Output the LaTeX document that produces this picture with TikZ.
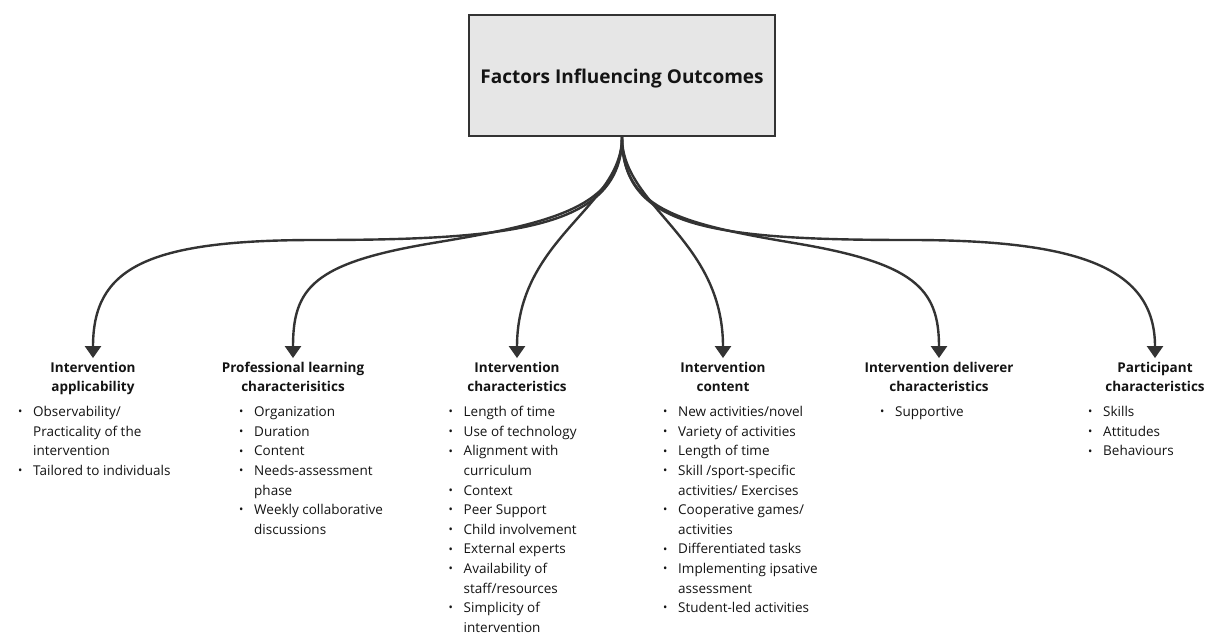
\documentclass[tikz,border=0pt]{standalone}
\usepackage{fontspec}
\usepackage{graphicx}
\setmainfont{Open Sans}
\usetikzlibrary{arrows.meta}

\definecolor{linegray}{HTML}{333333}
\definecolor{boxgray}{HTML}{E6E6E6}
\definecolor{textgray}{HTML}{141414}

\newcommand{\bul}{\makebox[13pt][l]{\makebox[0pt]{\raisebox{0.05em}{\scalebox{0.85}{\textbullet}}}}}
\newcommand{\ind}{\hspace*{13pt}}

\tikzset{
    rootbox/.style={draw=linegray, line width=2pt, fill=boxgray, minimum width=306pt, minimum height=121pt, font=\bfseries\fontsize{19}{22}\selectfont, text=textgray},
    factor/.style={anchor=base, inner sep=0, font=\bfseries\fontsize{13.5}{19.6}\selectfont, text=textgray},
    itemlist/.style={anchor=base west, inner sep=0, font=\fontsize{13.5}{19.6}\selectfont, text=textgray},
    branch/.style={draw=linegray, line width=2.4pt, -{Triangle[width=16pt, length=12pt]}}
}

\begin{document}
\begin{tikzpicture}[x=1pt, y=-1pt]
        \fill[white] (0, 0) rectangle (1206, 634);
        \useasboundingbox (0, 0) rectangle (1206, 634);

        \node (0) at (622, 75.5)[rootbox] {\raisebox{-3pt}[\height][\depth]{Factors Influencing Outcomes}};

        \node (1) at (93, 372)[factor] {\begin{tabular}[t]{@{}c@{}}Intervention\\ applicability\end{tabular}};
        \node (l1) at (20, 416.6)[itemlist] {\begin{tabular}[t]{@{}l@{}}
            \bul Observability/\\ \ind Practicality of the\\ \ind intervention\\
            \bul Tailored to individuals\end{tabular}};

        \node (2) at (293, 372)[factor] {\begin{tabular}[t]{@{}c@{}}Professional learning\\ characterisitics\end{tabular}};
        \node (l2) at (241, 416.6)[itemlist] {\begin{tabular}[t]{@{}l@{}}
            \bul Organization\\ \bul Duration\\ \bul Content\\
            \bul Needs-assessment\\ \ind phase\\
            \bul Weekly collaborative\\ \ind discussions\end{tabular}};

        \node (3) at (517, 372)[factor] {\begin{tabular}[t]{@{}c@{}}Intervention\\ characteristics\end{tabular}};
        \node (l3) at (450.5, 416.6)[itemlist] {\begin{tabular}[t]{@{}l@{}}
            \bul Length of time\\ \bul Use of technology\\
            \bul Alignment with\\ \ind curriculum\\
            \bul Context\\ \bul Peer Support\\ \bul Child involvement\\ \bul External experts\\
            \bul Availability of\\ \ind staff/resources\\
            \bul Simplicity of\\ \ind intervention\end{tabular}};

        \node (4) at (723, 372)[factor] {\begin{tabular}[t]{@{}c@{}}Intervention\\ content\end{tabular}};
        \node (l4) at (665, 416.6)[itemlist] {\begin{tabular}[t]{@{}l@{}}
            \bul New activities/novel\\ \bul Variety of activities\\ \bul Length of time\\
            \bul Skill /sport-specific\\ \ind activities/ Exercises\\
            \bul Cooperative games/\\ \ind activities\\
            \bul Differentiated tasks\\
            \bul Implementing ipsative\\ \ind assessment\\
            \bul Student-led activities\end{tabular}};

        \node (5) at (939, 372)[factor] {\begin{tabular}[t]{@{}c@{}}Intervention deliverer\\ characteristics\end{tabular}};
        \node (l5) at (882, 416.6)[itemlist] {\begin{tabular}[t]{@{}l@{}}\bul Supportive\end{tabular}};

        \node (6) at (1155, 372)[factor] {\begin{tabular}[t]{@{}c@{}}Participant\\ characteristics\end{tabular}};
        \node (l6) at (1090, 416.6)[itemlist] {\begin{tabular}[t]{@{}l@{}}
            \bul Skills\\ \bul Attitudes\\ \bul Behaviours\end{tabular}};

        \coordinate (m1) at (316, 240);
        \coordinate (m2) at (433, 243);
        \coordinate (m5) at (794, 243);
        \coordinate (m6) at (910, 240);

        \draw[branch] (0.south) .. controls +(0, 90) and +(200, 0) .. (m1) .. controls +(-170, 0) and +(0, -90) .. (1.north);
        \draw[branch] (0.south) .. controls +(0, 70) and +(120, -20) .. (m2) .. controls +(-120, 20) and +(0, -70) .. (2.north);
        \draw[branch] (0.south) .. controls +(0, 70) and +(0, -120) .. (3.north);
        \draw[branch] (0.south) .. controls +(0, 70) and +(0, -120) .. (4.north);
        \draw[branch] (0.south) .. controls +(0, 70) and +(-120, -20) .. (m5) .. controls +(120, 20) and +(0, -70) .. (5.north);
        \draw[branch] (0.south) .. controls +(0, 90) and +(-200, 0) .. (m6) .. controls +(170, 0) and +(0, -90) .. (6.north);
    \end{tikzpicture}
\end{document}
